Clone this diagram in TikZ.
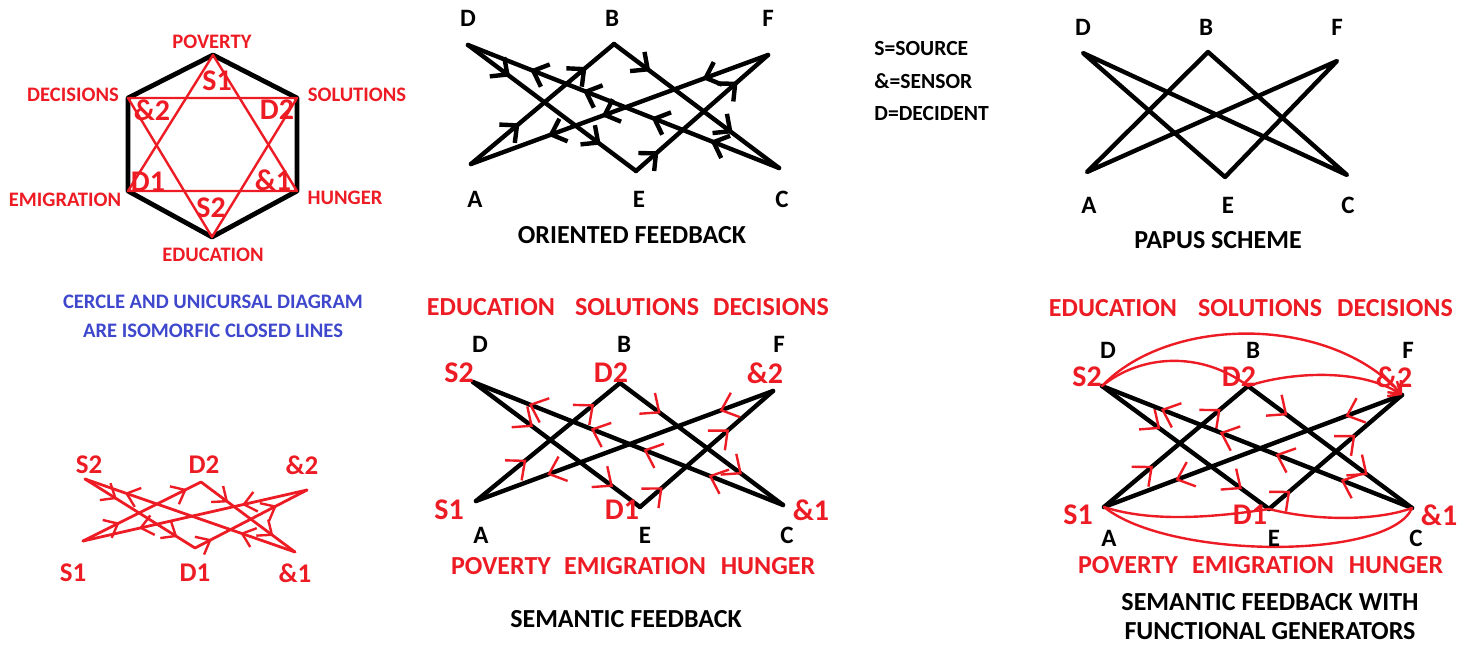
\documentclass[tikz,border=0pt]{standalone}
\usepackage{fontspec}
\setmainfont{Carlito}
\usetikzlibrary{arrows.meta, decorations.markings}

\definecolor{pred}{RGB}{237,28,36}
\definecolor{pblue}{RGB}{63,72,204}

\tikzset{
  chev/.tip={Straight Barb[length=6.5pt, width=12pt]},
  rchev/.tip={Straight Barb[length=7.5pt, width=13pt, line width=1.2pt 0]},
  uchev/.tip={Straight Barb[length=6pt, width=10pt, line width=1.2pt 0]},
}

\begin{document}
\begin{tikzpicture}[x=0.5pt, y=-0.5pt,
    bline/.style={line width=2.2pt, line cap=round, line join=round},
    rline/.style={pred, line width=1.2pt, line cap=round, line join=round},
    mk/.style={postaction={decorate, decoration={markings, mark=at position #1 with {\arrow{chev}}}}},
    rmk/.style={postaction={decorate, decoration={markings, mark=at position #1 with {\arrow[pred]{rchev}}}}},
    umk/.style={postaction={decorate, decoration={markings, mark=at position #1 with {\arrow[pred]{uchev}}}}},
    gen/.style={rline, -{Straight Barb[length=5pt, width=9pt]}},
    vtx/.style={inner sep=0pt, font=\fontsize{12.5}{13}\selectfont\bfseries},
    rvtx/.style={pred, inner sep=0pt, font=\fontsize{15}{16}\selectfont\bfseries},
    uvtx/.style={pred, inner sep=0pt, font=\fontsize{13.5}{14}\selectfont\bfseries},
    topic/.style={pred, inner sep=0pt, font=\fontsize{13}{14}\selectfont\bfseries},
    heading/.style={inner sep=0pt, align=center, font=\fontsize{13}{14.5}\selectfont\bfseries},
    hexlab/.style={pred, inner sep=0pt, font=\fontsize{10.3}{11}\selectfont\bfseries},
    hexin/.style={pred, inner sep=0pt, font=\fontsize{15}{16}\selectfont\bfseries},
    isotext/.style={pblue, inner sep=0pt, align=center, font=\fontsize{10.3}{14.5}\selectfont\bfseries},
    keytext/.style={anchor=west, inner sep=0pt, font=\fontsize{10.8}{12}\selectfont\bfseries},
]
\useasboundingbox (0,0) rectangle (1460,647);

% ---------- hexagon and star ----------
\coordinate (hpov) at (213,55);
\coordinate (hsol) at (297,98);
\coordinate (hhun) at (297,191);
\coordinate (hedu) at (212,237);
\coordinate (hemi) at (128,191);
\coordinate (hdec) at (128,98);

\draw[bline, line width=2.4pt] (hpov) -- (hsol) -- (hhun) -- (hedu) -- (hemi) -- (hdec) -- cycle;
\draw[rline] (hpov) -- (hhun) -- (hemi) -- cycle;
\draw[rline] (hdec) -- (hsol) -- (hedu) -- cycle;

\node[hexlab] (lpov) at (212,42) {POVERTY};
\node[hexlab] (ldec) at (73,95) {DECISIONS};
\node[hexlab] (lsol) at (357,95) {SOLUTIONS};
\node[hexlab] (lemi) at (65,200) {EMIGRATION};
\node[hexlab] (lhun) at (345,198) {HUNGER};
\node[hexlab] (ledu) at (213,255) {EDUCATION};

\node[hexin] (hs1) at (217,81) {S1};
\node[hexin] (hr2) at (152,110) {\&2};
\node[hexin] (hd2) at (277,110) {D2};
\node[hexin] (hd1) at (148,182) {D1};
\node[hexin] (hr1) at (273,180) {\&1};
\node[hexin] (hs2) at (211,208) {S2};

\node[isotext] (iso) at (213,316) {CERCLE AND UNICURSAL DIAGRAM\\ARE ISOMORFIC CLOSED LINES};

% ---------- oriented feedback ----------
\coordinate (oD) at (468,45);
\coordinate (oB) at (614,44);
\coordinate (oF) at (768,55);
\coordinate (oA) at (471,164);
\coordinate (oE) at (636,171);
\coordinate (oC) at (779,168);

\draw[bline, mk=.25, mk=.79] (oD) -- (oE);
\draw[bline, mk=.17, mk=.77] (oE) -- (oF);
\draw[bline, mk=.22, mk=.56, mk=.74] (oF) -- (oA);
\draw[bline, mk=.34, mk=.81] (oA) -- (oB);
\draw[bline, mk=.22, mk=.72] (oB) -- (oC);
\draw[bline, mk=.22, mk=.41, mk=.63, mk=.80] (oC) -- (oD);

\node[vtx] (oDl) at (468,18) {D};
\node[vtx] (oBl) at (612,18) {B};
\node[vtx] (oFl) at (768,18) {F};
\node[vtx] (oAl) at (475,199) {A};
\node[vtx] (oEl) at (639,199) {E};
\node[vtx] (oCl) at (782,199) {C};
\node[heading] (otitle) at (632,235) {ORIENTED FEEDBACK};

% ---------- key ----------
\node[keytext] (ksrc) at (874,48) {S=SOURCE};
\node[keytext] (ksen) at (874,81) {\&=SENSOR};
\node[keytext] (kdec) at (874,113) {D=DECIDENT};

% ---------- papus scheme ----------
\coordinate (pD) at (1083,53);
\coordinate (pB) at (1208,52);
\coordinate (pF) at (1337,61);
\coordinate (pA) at (1087,172);
\coordinate (pE) at (1225,177);
\coordinate (pC) at (1347,175);

\draw[bline] (pA) -- (pB) -- (pC) -- (pD) -- (pE) -- (pF) -- cycle;

\node[vtx] (pDl) at (1083,27) {D};
\node[vtx] (pBl) at (1206,27) {B};
\node[vtx] (pFl) at (1337,27) {F};
\node[vtx] (pAl) at (1089,205) {A};
\node[vtx] (pEl) at (1228,205) {E};
\node[vtx] (pCl) at (1348,205) {C};
\node[heading] (ptitle) at (1218,240) {PAPUS SCHEME};

% ---------- semantic feedback ----------
\coordinate (sD) at (473,382);
\coordinate (sB) at (620,383);
\coordinate (sF) at (773,391);
\coordinate (sA) at (476,501);
\coordinate (sE) at (640,507);
\coordinate (sC) at (783,505);

\draw[bline, rmk=.36, rmk=.84] (sD) -- (sE);
\draw[bline, rmk=.17, rmk=.67] (sE) -- (sF);
\draw[bline, rmk=.18, rmk=.76] (sF) -- (sA);
\draw[bline, rmk=.35, rmk=.82] (sA) -- (sB);
\draw[bline, rmk=.25, rmk=.75] (sB) -- (sC);
\draw[bline, rmk=.24, rmk=.45, rmk=.62, rmk=.82] (sC) -- (sD);

\node[topic] (sedu) at (491,307) {EDUCATION};
\node[topic] (ssol) at (637,307) {SOLUTIONS};
\node[topic] (sdec) at (771,307) {DECISIONS};
\node[vtx] (sDl) at (480,344) {D};
\node[vtx] (sBl) at (624,344) {B};
\node[vtx] (sFl) at (779,344) {F};
\node[rvtx] (sS2) at (459,373) {S2};
\node[rvtx] (sD2) at (611,373) {D2};
\node[rvtx] (sR2) at (765,373) {\&2};
\node[rvtx] (sS1) at (449,510) {S1};
\node[rvtx] (sD1) at (622,510) {D1};
\node[rvtx] (sR1) at (811,510) {\&1};
\node[vtx] (sAl) at (481,535) {A};
\node[vtx] (sEl) at (645,535) {E};
\node[vtx] (sCl) at (787,535) {C};
\node[topic] (spov) at (501,566) {POVERTY};
\node[topic] (semi) at (635,566) {EMIGRATION};
\node[topic] (shun) at (768,566) {HUNGER};
\node[heading] (stitle) at (626,619) {SEMANTIC FEEDBACK};

% ---------- unicursal line ----------
\coordinate (uS2) at (85,479);
\coordinate (uD2) at (201,482);
\coordinate (uR2) at (307,490);
\coordinate (uS1) at (83,541);
\coordinate (uD1) at (195,548);
\coordinate (uR1) at (295,552);

\draw[rline, line width=1.4pt, umk=.29, umk=.84] (uS2) -- (uD1);
\draw[rline, line width=1.4pt, umk=.15, umk=.73] (uD1) -- (uR2);
\draw[rline, line width=1.4pt, umk=.29, umk=.75] (uR2) -- (uS1);
\draw[rline, line width=1.4pt, umk=.31, umk=.88] (uS1) -- (uD2);
\draw[rline, line width=1.4pt, umk=.29, umk=.77] (uD2) -- (uR1);
\draw[rline, line width=1.4pt, umk=.26, umk=.81] (uR1) -- (uS2);

\node[uvtx] (uS2l) at (89,465) {S2};
\node[uvtx] (uD2l) at (204,465) {D2};
\node[uvtx] (uR2l) at (302,465) {\&2};
\node[uvtx] (uS1l) at (73,573) {S1};
\node[uvtx] (uD1l) at (195,573) {D1};
\node[uvtx] (uR1l) at (295,573) {\&1};

% ---------- semantic feedback with generators ----------
\coordinate (gD) at (1102,386);
\coordinate (gB) at (1248,386);
\coordinate (gF) at (1402,395);
\coordinate (gA) at (1104,507);
\coordinate (gE) at (1269,509);
\coordinate (gC) at (1412,508);

\draw[bline, rmk=.35, rmk=.84] (gD) -- (gE);
\draw[bline, rmk=.16, rmk=.65] (gE) -- (gF);
\draw[bline, rmk=.19, rmk=.76] (gF) -- (gA);
\draw[bline, rmk=.34, rmk=.81] (gA) -- (gB);
\draw[bline, rmk=.24, rmk=.73] (gB) -- (gC);
\draw[bline, rmk=.23, rmk=.44, rmk=.62, rmk=.81] (gC) -- (gD);

% functional generators
\draw[gen] (gD) .. controls (1170,315) and (1330,315) .. (gF);
\draw[rline] (gD) .. controls (1140,355) and (1200,350) .. (gB);
\draw[gen] (gB) .. controls (1290,372) and (1360,368) .. (gF);
\draw[rline] (gA) .. controls (1150,522) and (1210,518) .. (gE);
\draw[rline] (gE) .. controls (1320,522) and (1380,520) .. (gC);
\draw[rline] (gA) .. controls (1170,560) and (1390,560) .. (gC);

\node[topic] (gedu) at (1113,308) {EDUCATION};
\node[topic] (gsol) at (1260,308) {SOLUTIONS};
\node[topic] (gdec) at (1395,308) {DECISIONS};
\node[vtx] (gDl) at (1108,350) {D};
\node[vtx] (gBl) at (1253,350) {B};
\node[vtx] (gFl) at (1408,350) {F};
\node[rvtx] (gS2) at (1087,377) {S2};
\node[rvtx] (gD2) at (1239,377) {D2};
\node[rvtx] (gR2) at (1394,377) {\&2};
\node[rvtx] (gS1) at (1078,515) {S1};
\node[rvtx] (gD1) at (1250,515) {D1};
\node[rvtx] (gR1) at (1439,515) {\&1};
\node[vtx] (gAl) at (1109,538) {A};
\node[vtx] (gEl) at (1274,538) {E};
\node[vtx] (gCl) at (1416,538) {C};
\node[topic] (gpov) at (1128,565) {POVERTY};
\node[topic] (gemi) at (1263,565) {EMIGRATION};
\node[topic] (ghun) at (1396,565) {HUNGER};
\node[heading] (gtitle) at (1270,617) {SEMANTIC FEEDBACK WITH\\FUNCTIONAL GENERATORS};

\end{tikzpicture}
\end{document}
